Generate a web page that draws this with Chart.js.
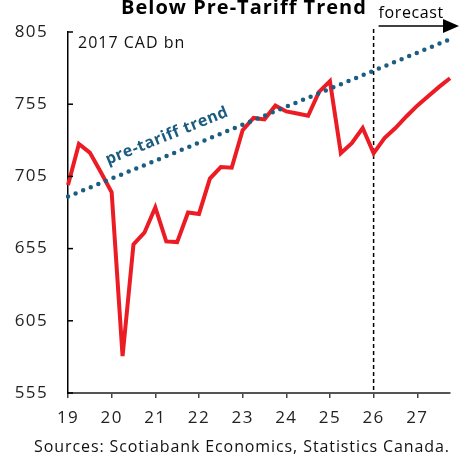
<!DOCTYPE html>
<html lang="en">
<head>
    <meta charset="UTF-8">
    <title>Below Pre-Tariff Trend</title>
    <script src="https://cdn.jsdelivr.net/npm/chart.js"></script>
    <style>
        body {
            margin: 0;
            padding: 0;
            background-color: #fff;
        }
        #wrap {
            width: 468px;
            height: 455px;
        }
    </style>
</head>
<body>
    <div id="wrap"><canvas id="myChart"></canvas></div>

    <script>
        // quarterly, 2019Q1 .. 2027Q4
        const years = ['19', '20', '21', '22', '23', '24', '25', '26', '27'];
        const quarters = years.flatMap(y => [y + 'Q1', y + 'Q2', y + 'Q3', y + 'Q4']);

        // real GDP, 2017 CAD bn
        const gdp = [
            699, 727.5, 721.5, 708,
            694, 580.5, 658, 666,
            683.5, 660, 659.5, 680,
            679, 703.5, 711.5, 711,
            737, 745.5, 744.5, 754,
            750, 748.5, 747, 763.5,
            771, 721, 728, 738.5,
            721, 731.5, 738.5, 746.5,
            754, 760.5, 767, 773
        ];

        // pre-tariff trend, start and end of the straight line
        const trendStart = 691;
        const trendEnd = 800;
        const trend = quarters.map((q, i) => i === 0 ? trendStart : (i === quarters.length - 1 ? trendEnd : null));

        const forecastStart = '26Q1';
        const yTicks = [555, 605, 655, 705, 755, 805];

        const font = "'Open Sans', sans-serif";

        // small helper: text with letter spacing
        function txt(ctx, s, x, y, spacing) {
            ctx.letterSpacing = spacing + 'px';
            ctx.fillText(s, x, y);
            ctx.letterSpacing = '0px';
        }

        const extras = {
            id: 'extras',
            beforeDraw(chart) {
                // the reference font is a bit wider than Open Sans
                chart.ctx.letterSpacing = '1.4px';
            },
            beforeDatasetsDraw(chart) {
                const ctx = chart.ctx;
                const xs = chart.scales.x;
                const area = chart.chartArea;
                const fx = xs.getPixelForValue(quarters.indexOf(forecastStart));
                ctx.save();
                ctx.strokeStyle = '#000';
                ctx.lineWidth = 1.5;
                ctx.setLineDash([4, 3]);
                ctx.beginPath();
                ctx.moveTo(fx, 29);
                ctx.lineTo(fx, area.bottom);
                ctx.stroke();
                ctx.restore();
            },
            afterDraw(chart) {
                const ctx = chart.ctx;
                const xs = chart.scales.x;
                const ys = chart.scales.y;
                const area = chart.chartArea;
                ctx.save();

                // inward ticks on the y axis
                ctx.strokeStyle = '#000';
                ctx.lineWidth = 1.5;
                yTicks.forEach(v => {
                    const py = ys.getPixelForValue(v);
                    ctx.beginPath();
                    ctx.moveTo(area.left, py);
                    ctx.lineTo(area.left + 5, py);
                    ctx.stroke();
                });

                // title (cut at the top)
                ctx.fillStyle = '#000';
                ctx.textAlign = 'center';
                ctx.textBaseline = 'alphabetic';
                ctx.font = "bold 20px " + font;
                txt(ctx, 'Below Pre-Tariff Trend', 244, 14, 1);

                // forecast arrow
                const fx = xs.getPixelForValue(quarters.indexOf(forecastStart));
                ctx.beginPath();
                ctx.lineWidth = 1.5;
                ctx.moveTo(fx + 5, 26);
                ctx.lineTo(445, 26);
                ctx.stroke();
                ctx.beginPath();
                ctx.moveTo(443, 19);
                ctx.lineTo(459, 26);
                ctx.lineTo(443, 33);
                ctx.closePath();
                ctx.fill();
                ctx.textAlign = 'left';
                ctx.font = "16px " + font;
                txt(ctx, 'forecast', fx + 5, 18, 0.6);

                // unit label
                ctx.fillStyle = '#111';
                txt(ctx, '2017 CAD bn', 78, 48, 1);

                // trend label
                ctx.save();
                ctx.translate(167, 136);
                ctx.rotate(-22 * Math.PI / 180);
                ctx.font = "bold 16px " + font;
                ctx.fillStyle = '#1a5c80';
                ctx.textAlign = 'center';
                ctx.textBaseline = 'middle';
                txt(ctx, 'pre-tariff trend', 0, 0, 0.6);
                ctx.restore();

                // source
                ctx.font = "16px " + font;
                ctx.fillStyle = '#111';
                ctx.textAlign = 'center';
                txt(ctx, 'Sources: Scotiabank Economics, Statistics Canada.', 242, 452, 0.9);

                ctx.restore();
            }
        };

        const ctx = document.getElementById('myChart').getContext('2d');
        new Chart(ctx, {
            type: 'line',
            data: {
                labels: quarters,
                datasets: [{
                    label: 'pre-tariff trend',
                    data: trend,
                    borderColor: '#1b5e82',
                    borderWidth: 4.5,
                    borderDash: [0, 8.2],
                    borderCapStyle: 'round',
                    spanGaps: true,
                    pointRadius: 0,
                    fill: false
                }, {
                    label: 'Real GDP',
                    data: gdp,
                    borderColor: '#ec1c24',
                    borderWidth: 4,
                    borderJoinStyle: 'miter',
                    pointRadius: 0,
                    tension: 0,
                    fill: false
                }]
            },
            options: {
                responsive: true,
                maintainAspectRatio: false,
                animation: false,
                layout: {
                    padding: { left: 0, right: 18, top: 32, bottom: 0 }
                },
                plugins: {
                    legend: { display: false },
                    tooltip: { enabled: false }
                },
                scales: {
                    x: {
                        offset: false,
                        afterFit: s => { s.height = 62; },
                        grid: {
                            drawOnChartArea: false,
                            tickLength: 5,
                            lineWidth: 1.5,
                            color: c => c.index % 4 === 0 ? '#444' : 'rgba(0,0,0,0)'
                        },
                        border: { color: '#555', width: 2 },
                        ticks: {
                            autoSkip: false,
                            maxRotation: 0,
                            padding: 10,
                            color: '#222',
                            font: { family: font, size: 17 },
                            callback: (v, i) => i % 4 === 0 ? quarters[i].slice(0, 2) : ''
                        }
                    },
                    y: {
                        min: 555,
                        max: 805,
                        afterFit: s => { s.width = 68; },
                        afterBuildTicks: s => { s.ticks = yTicks.map(v => ({ value: v })); },
                        grid: { display: false },
                        border: { color: '#000', width: 1.5 },
                        ticks: {
                            padding: 12,
                            color: '#222',
                            font: { family: font, size: 17 }
                        }
                    }
                }
            },
            plugins: [extras]
        });
    </script>
</body>
</html>
